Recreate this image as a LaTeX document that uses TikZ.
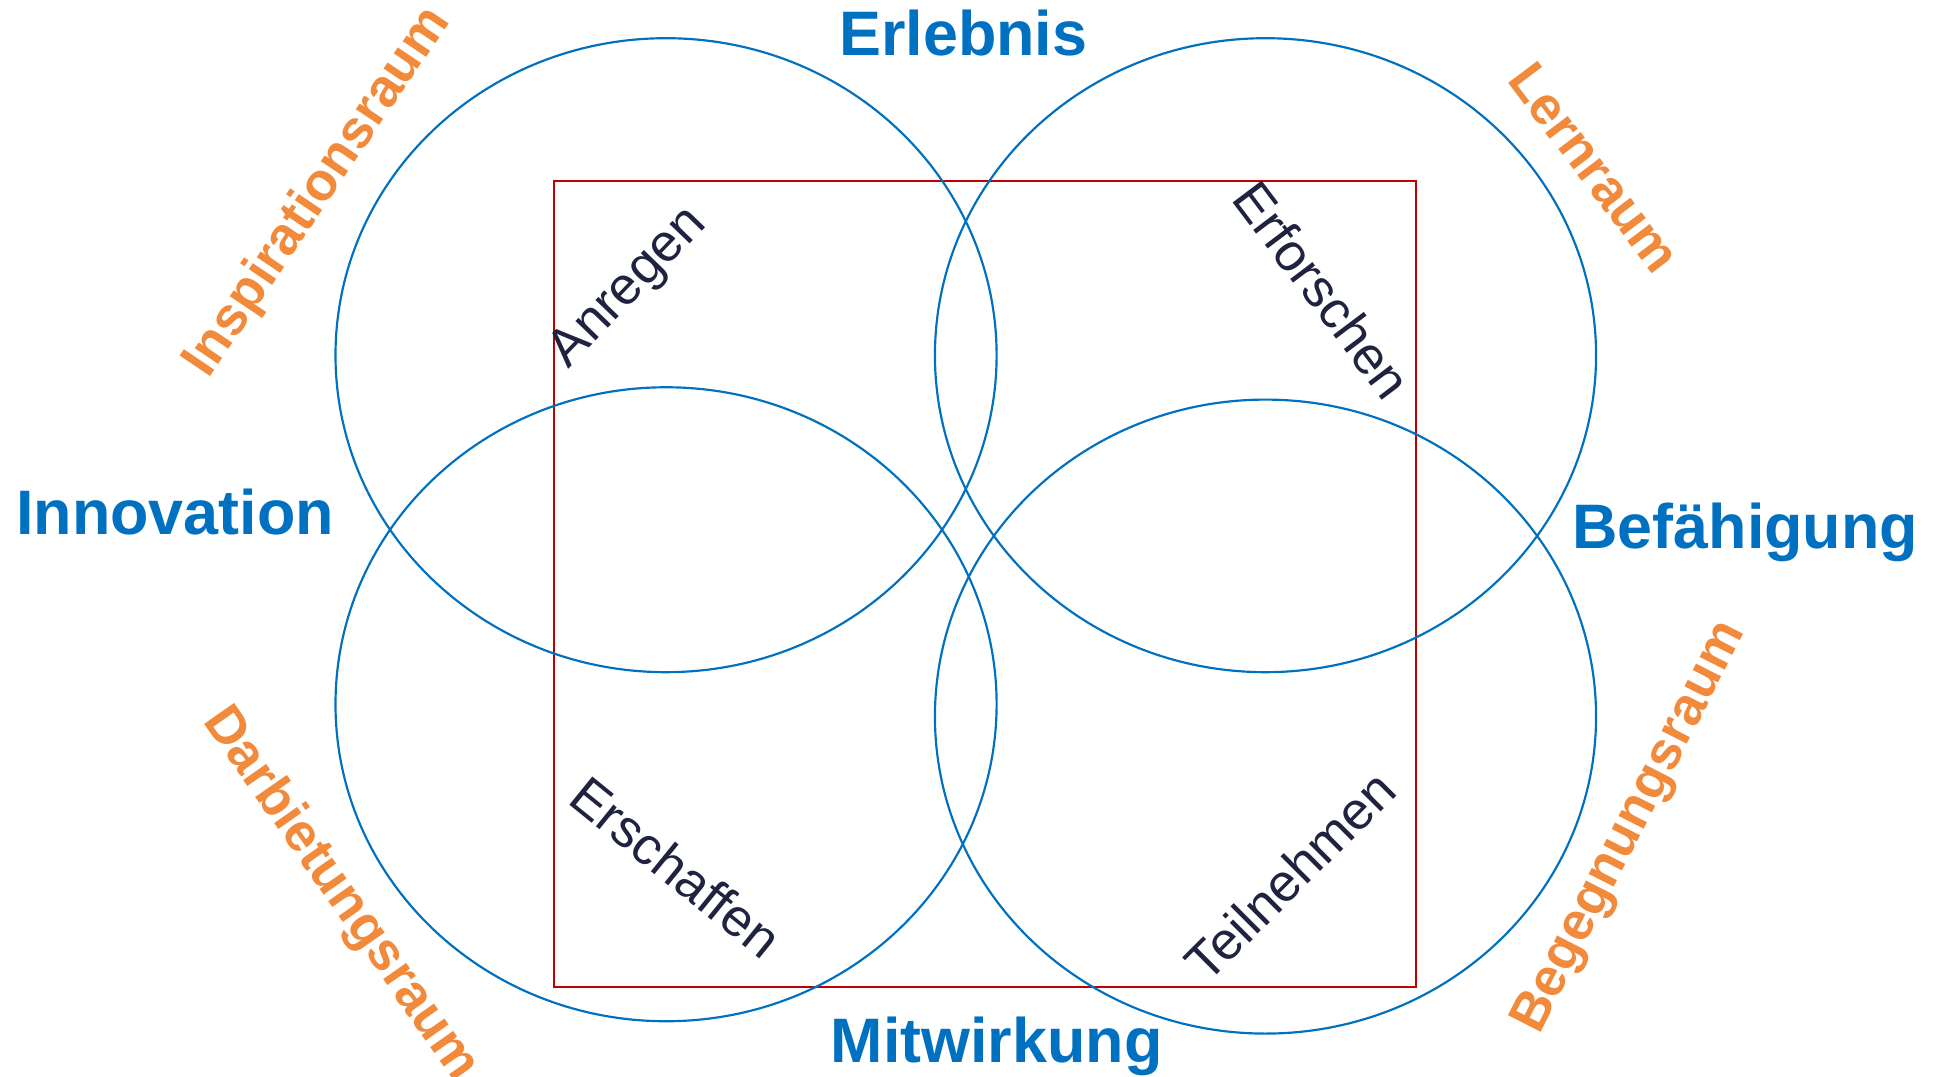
\documentclass[tikz,border=0pt]{standalone}
\usepackage{fontspec}
\setmainfont{Liberation Sans}
\usetikzlibrary{shapes.geometric}

\definecolor{venblue}{HTML}{0070C0}
\definecolor{raumorange}{HTML}{F28A3C}
\definecolor{verbdark}{HTML}{1F2340}
\definecolor{framered}{HTML}{C00000}

\begin{document}
\begin{tikzpicture}[
  ring/.style={draw=venblue, line width=0.5pt, ellipse, minimum width=5.36cm, minimum height=5.14cm, inner sep=0pt},
  pillar/.style={font=\fontsize{14.5}{17}\selectfont\bfseries, text=venblue, inner sep=0pt},
  raum/.style={font=\fontsize{12.3}{14}\selectfont\bfseries, text=raumorange, inner sep=0pt},
  verb/.style={font=\fontsize{12.2}{14}\selectfont, text=verbdark, inner sep=0pt},
]
\useasboundingbox (0,0) rectangle (15.68,8.73);

% red frame
\draw[framered, line width=0.5pt] (4.49,0.73) rectangle (11.48,7.26);

% the four circles
\node[ring] (erlring) at (5.40,5.85) {};
\node[ring] (befring) at (10.26,5.85) {};
\node[ring] (innring) at (5.40,3.02) {};
\node[ring] (mitring) at (10.26,2.92) {};

% main terms
\node[pillar] (erlebnis)   at (7.81,8.46) {Erlebnis};
\node[pillar] (innovation) at (1.42,4.58) {Innovation};
\node[pillar] (befaehig)   at (14.15,4.41) {Befähigung};
\node[pillar] (mitwirk)    at (8.08,0.25) {Mitwirkung};

% spaces
\node[raum, rotate=56]  (inspiration) at (2.58,7.17) {Inspirationsraum};
\node[raum, rotate=-53] (lern)        at (12.93,7.37) {Lernraum};
\node[raum, rotate=-55] (darbietung)  at (2.76,1.48) {Darbietungsraum};
\node[raum, rotate=63]  (begegnung)   at (13.22,2.02) {Begegnungsraum};

% activities
\node[verb, rotate=46]  (anregen)    at (5.10,6.39) {Anregen};
\node[verb, rotate=-53] (erforschen) at (10.72,6.38) {Erforschen};
\node[verb, rotate=-39] (erschaffen) at (5.48,1.70) {Erschaffen};
\node[verb, rotate=45]  (teilnehmen) at (10.46,1.63) {Teilnehmen};

\end{tikzpicture}
\end{document}
